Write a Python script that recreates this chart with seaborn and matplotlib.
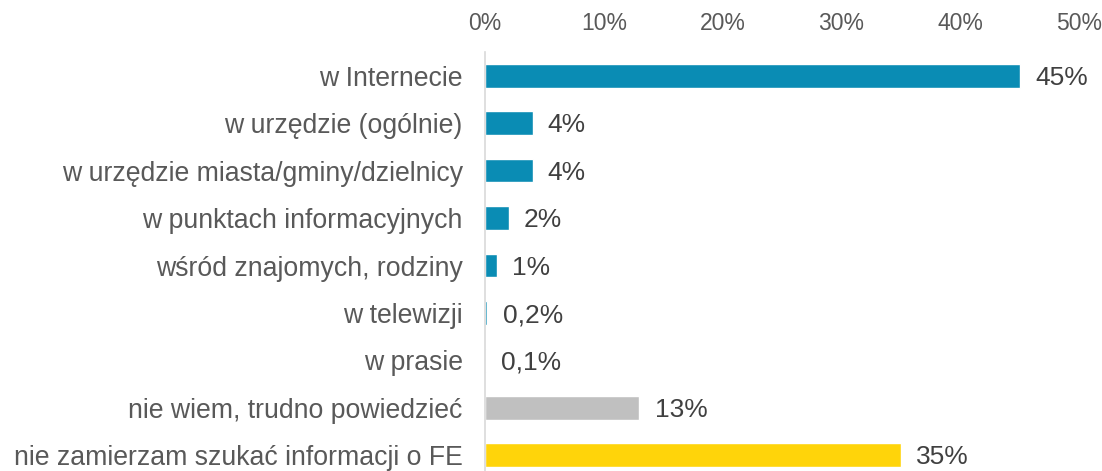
import matplotlib
matplotlib.use("Agg")
import matplotlib.pyplot as plt
import seaborn as sns
import pandas as pd
from matplotlib.ticker import FuncFormatter

categories = [
    "w Internecie",
    "w urzędzie (ogólnie)",
    "w urzędzie miasta/gminy/dzielnicy",
    "w punktach informacyjnych",
    "wśród znajomych, rodziny",
    "w telewizji",
    "w prasie",
    "nie wiem, trudno powiedzieć",
    "nie zamierzam szukać informacji o FE",
]
values = [45, 4, 4, 2, 1, 0.2, 0.1, 13, 35]
value_labels = ["45%", "4%", "4%", "2%", "1%", "0,2%", "0,1%", "13%", "35%"]
tick_values = [0, 10, 20, 30, 40, 50]

blue = "#0A8CB4"
colors = [blue] * 7 + ["#C0C0C0", "#FFD40A"]

sns.set_theme(style="white")
plt.rcParams["font.family"] = ["Liberation Sans", "DejaVu Sans"]
text_color = "#595959"

df = pd.DataFrame({"category": categories, "value": values})

fig = plt.figure(figsize=(11.02, 4.71), dpi=100)
ax = fig.add_axes([485 / 1102, -8 / 471, (1079 - 485) / 1102, (479 - 52) / 471])

sns.barplot(
    data=df, x="value", y="category", hue="category",
    palette=dict(zip(categories, colors)), order=categories,
    width=0.5, legend=False, ax=ax, saturation=1,
)

ax.set_xlim(0, 50)
ax.set_ylim(len(categories) - 0.5, -0.5)
ax.set_xticks(tick_values)
ax.xaxis.set_major_formatter(FuncFormatter(lambda v, p: f"{v:.0f}%"))
ax.xaxis.tick_top()
ax.tick_params(axis="x", length=0, pad=12, labelsize=16.5, labelcolor=text_color)
ax.tick_params(axis="y", length=0, pad=16, labelsize=19.2, labelcolor=text_color)
ax.set_xlabel("")
ax.set_ylabel("")

for side in ["top", "right", "bottom"]:
    ax.spines[side].set_visible(False)
ax.spines["left"].set_color("#D9D9D9")
ax.spines["left"].set_linewidth(1.2)

for i, (v, lab) in enumerate(zip(values, value_labels)):
    ax.annotate(lab, xy=(v, i), xytext=(11, -1.5), textcoords="offset points",
                ha="left", va="center", fontsize=19, color="#404040")

fig.savefig("out.png", dpi=100)
